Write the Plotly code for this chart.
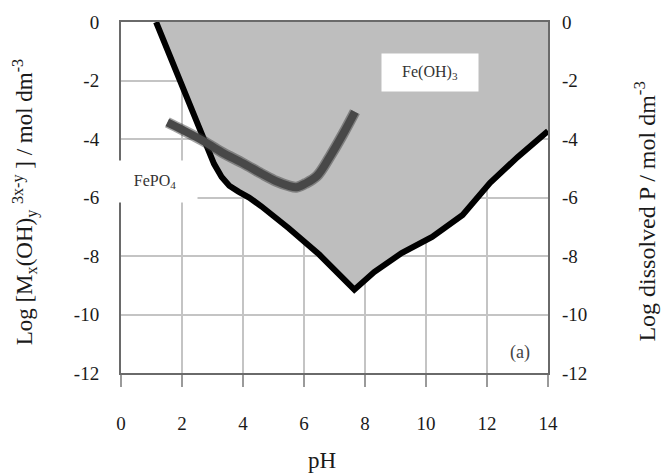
import plotly.graph_objects as go

# Fe(OH)3 solubility boundary (black line)
fe_ph = [1.15, 2.0, 2.67, 3.05, 3.3, 3.55, 3.85, 4.2, 4.6, 5.5, 6.5, 7.65, 8.3, 9.2, 10.2, 11.2, 12.1, 13.0, 14.0]
fe_log = [0.0, -2.15, -3.95, -4.85, -5.3, -5.6, -5.8, -6.0, -6.3, -7.05, -7.95, -9.15, -8.55, -7.9, -7.35, -6.6, -5.5, -4.62, -3.73]

# FePO4 dissolved P curve (thick grey)
p_ph = [1.52, 2.0, 2.67, 3.3, 4.0, 4.6, 5.1, 5.5, 5.75, 6.05, 6.42, 6.85, 7.28, 7.67]
p_log = [-3.43, -3.68, -4.05, -4.45, -4.83, -5.18, -5.45, -5.6, -5.65, -5.52, -5.27, -4.6, -3.83, -3.07]

x_ticks = [0, 2, 4, 6, 8, 10, 12, 14]
y_ticks = [0, -2, -4, -6, -8, -10, -12]

FONT = "Liberation Serif"
fig = go.Figure()

# shaded Fe(OH)3 region above the boundary
fig.add_trace(go.Scatter(
    x=fe_ph + [14, fe_ph[0]], y=fe_log + [0, 0],
    mode="lines", fill="toself", fillcolor="#BEBEBE",
    line=dict(width=0), hoverinfo="skip", showlegend=False))

fig.add_trace(go.Scatter(
    x=fe_ph, y=fe_log, mode="lines",
    line=dict(color="black", width=6),
    showlegend=False))

fig.add_trace(go.Scatter(
    x=p_ph, y=p_log, mode="lines",
    line=dict(color="rgba(50,50,50,0.45)", width=11, shape="spline"),
    showlegend=False))
fig.add_trace(go.Scatter(
    x=p_ph, y=p_log, mode="lines",
    line=dict(color="#484848", width=8, shape="spline"),
    showlegend=False))

# invisible trace for right axis
fig.add_trace(go.Scatter(x=[0], y=[0], yaxis="y2", mode="markers",
                         marker=dict(opacity=0), hoverinfo="skip", showlegend=False))

tickfont = dict(family=FONT, size=19, color="#1a1a1a")

fig.update_layout(
    width=664, height=475,
    margin=dict(l=121, r=116, t=15, b=102),
    paper_bgcolor="white", plot_bgcolor="white",
    showlegend=False,
    xaxis=dict(range=[0, 14], tickvals=x_ticks, ticktext=[str(v) for v in x_ticks],
               showgrid=True, gridcolor="#C4C4C4", gridwidth=1.5,
               showline=True, linecolor="#6a6a6a", linewidth=2, mirror=True,
               ticks="outside", ticklen=12, tickcolor="#9a9a9a", tickwidth=1.5,
               ticklabelstandoff=20, tickfont=tickfont, zeroline=False),
    yaxis=dict(range=[-12, 0], tickvals=y_ticks, ticktext=[str(v) for v in y_ticks],
               showgrid=True, gridcolor="#C4C4C4", gridwidth=1.5,
               showline=True, linecolor="#6a6a6a", linewidth=2, mirror=True,
               ticks="", ticklabelstandoff=16, tickfont=tickfont, zeroline=False),
    yaxis2=dict(range=[-12, 0], tickvals=y_ticks, ticktext=[str(v) for v in y_ticks],
                overlaying="y", side="right", showgrid=False, zeroline=False,
                showline=False, ticks="", ticklabelstandoff=13, tickfont=tickfont),
)

fig.add_annotation(x=10.13, y=-1.71, xref="x", yref="y", text="Fe(OH)<sub>3</sub>",
                   showarrow=False, bgcolor="white", width=96, height=37, borderpad=0,
                   font=dict(family=FONT, size=16, color="#333"))
fig.add_annotation(x=1.1, y=-5.45, xref="x", yref="y", text="FePO<sub>4</sub>",
                   showarrow=False, bgcolor="white", width=84, height=41, borderpad=0,
                   font=dict(family=FONT, size=16, color="#333"))
fig.add_annotation(x=13.08, y=-11.3, xref="x", yref="y", text="(a)",
                   showarrow=False, font=dict(family=FONT, size=18, color="#444"))

fig.add_annotation(xref="paper", yref="paper", x=-0.225, y=0.486, textangle=-90,
                   text="Log [M<sub>x</sub>(OH)<sub>y</sub> <sup>3x-y</sup> ] / mol dm<sup>-3</sup>",
                   showarrow=False, xanchor="center", yanchor="middle",
                   font=dict(family=FONT, size=23, color="#1a1a1a"))
fig.add_annotation(xref="paper", yref="paper", x=1.225, y=0.46, textangle=-90,
                   text="Log dissolved P / mol dm<sup>-3</sup>",
                   showarrow=False, xanchor="center", yanchor="middle",
                   font=dict(family=FONT, size=24, color="#1a1a1a"))
fig.add_annotation(xref="paper", yref="paper", x=0.47, y=-0.249,
                   text="pH", showarrow=False, xanchor="center", yanchor="middle",
                   font=dict(family=FONT, size=23, color="#1a1a1a"))

fig.write_html("out.html")
